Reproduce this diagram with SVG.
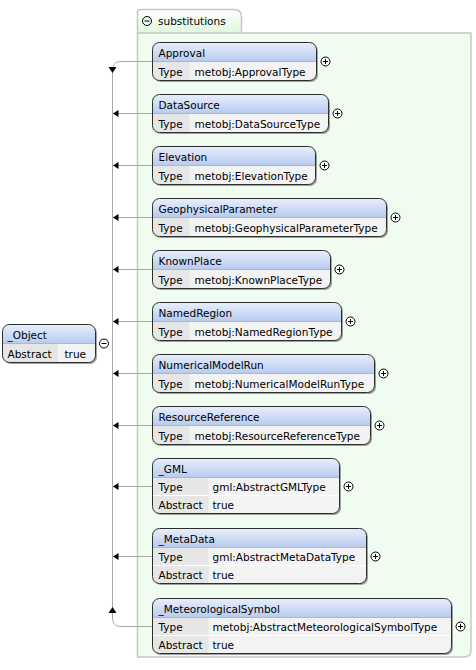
<svg xmlns="http://www.w3.org/2000/svg" width="476" height="670" viewBox="0 0 476 670">
<defs>
<linearGradient id="hdr" x1="0" y1="0" x2="0" y2="1">
<stop offset="0" stop-color="#e8effb"/>
<stop offset="1" stop-color="#b7cbef"/>
</linearGradient>
<linearGradient id="tabg" x1="0" y1="0" x2="0" y2="1">
<stop offset="0" stop-color="#ffffff"/>
<stop offset="1" stop-color="#dff7df"/>
</linearGradient>
</defs>
<style>
text{font-family:"DejaVu Sans","Liberation Sans",sans-serif;font-size:10.5px;fill:#000}
.sh{fill:#666;opacity:.6}
.bg{fill:#f3f3f3}
.hd{fill:url(#hdr)}
.lc{fill:#e6e6e6}
.ol{fill:none;stroke:#2e2e2e;stroke-width:1}
.sep{stroke:#a9b8d0;stroke-width:1}
.rs{stroke:#ffffff;stroke-width:1}
.cd{stroke:#ffffff;stroke-width:1}
.pc{fill:#fff;stroke:#000;stroke-width:1}
.pl{stroke:#000;stroke-width:1}
.cn{fill:none;stroke:#a8a8a8;stroke-width:1}
.ah{fill:#000}
</style>

<g id="substitutions">
<path d="M137.5,33 V12 Q137.5,9.5 140.5,9.5 H234 Q241.5,9.5 241.5,17 V33" fill="url(#tabg)" stroke="#c6c6c6" stroke-width="1.5"/>
<path d="M137.5,33 H471 V650 Q471,657 464,657 H137.5 Z" fill="#f0fcf0" stroke="#c6c6c6" stroke-width="1.5"/>
<circle cx="147" cy="21" r="4.5" fill="none" stroke="#000"/>
<line x1="144.5" y1="21" x2="149.5" y2="21" class="pl"/>
<text x="158" y="25">substitutions</text>
</g>

<g id="connectors">
<path class="cn" d="M152,61.5 H121 Q112.5,61.5 112.5,70 V618 Q112.5,626.5 121,626.5 H152"/>
<line class="cn" x1="113" y1="113.5" x2="152" y2="113.5"/>
<line class="cn" x1="113" y1="165.5" x2="152" y2="165.5"/>
<line class="cn" x1="113" y1="217.5" x2="152" y2="217.5"/>
<line class="cn" x1="113" y1="269.5" x2="152" y2="269.5"/>
<line class="cn" x1="113" y1="321.5" x2="152" y2="321.5"/>
<line class="cn" x1="113" y1="373.5" x2="152" y2="373.5"/>
<line class="cn" x1="113" y1="425.5" x2="152" y2="425.5"/>
<line class="cn" x1="113" y1="486.5" x2="152" y2="486.5"/>
<line class="cn" x1="113" y1="556.5" x2="152" y2="556.5"/>
<polygon class="ah" points="108.5,67 116.5,67 112.5,73"/>
<polygon class="ah" points="108.5,613 116.5,613 112.5,607"/>
<polygon class="ah" points="113,113.5 118.5,110 118.5,117"/>
<polygon class="ah" points="113,165.5 118.5,162 118.5,169"/>
<polygon class="ah" points="113,217.5 118.5,214 118.5,221"/>
<polygon class="ah" points="113,269.5 118.5,266 118.5,273"/>
<polygon class="ah" points="113,321.5 118.5,318 118.5,325"/>
<polygon class="ah" points="113,373.5 118.5,370 118.5,377"/>
<polygon class="ah" points="113,425.5 118.5,422 118.5,429"/>
<polygon class="ah" points="113,486.5 118.5,483 118.5,490"/>
<polygon class="ah" points="113,556.5 118.5,553 118.5,560"/>
</g>

<g id="Object" transform="translate(2.5,324.5)">
<rect class="sh" x="1.5" y="1.5" width="93" height="38" rx="7"/>
<rect class="bg" x="0" y="0" width="93" height="38" rx="7"/>
<path class="hd" d="M0,19 V7 Q0,0 7,0 H86 Q93,0 93,7 V19 Z"/>
<path class="lc" d="M0,19 H56 V38 H7 Q0,38 0,31 Z"/>
<line class="sep" x1="0" y1="19" x2="93" y2="19"/>
<line class="cd" x1="56.5" y1="19" x2="56.5" y2="38"/>
<rect class="ol" x="0" y="0" width="93" height="38" rx="7"/>
<text x="5" y="14">_Object</text>
<text x="5" y="33">Abstract</text>
<text x="62" y="33">true</text>
<circle cx="101.5" cy="19" r="4.5" class="pc"/>
<line class="pl" x1="99" y1="19" x2="104" y2="19"/>
</g>

<g id="Approval" transform="translate(152.5,42.5)">
<rect class="sh" x="1.5" y="1.5" width="164" height="38" rx="7"/>
<rect class="bg" width="164" height="38" rx="7"/>
<path class="hd" d="M0,19 V7 Q0,0 7,0 H157 Q164,0 164,7 V19 Z"/>
<path class="lc" d="M0,19 H37 V38 H7 Q0,38 0,31 Z"/>
<line class="sep" x1="0" y1="19" x2="164" y2="19"/>
<rect class="ol" width="164" height="38" rx="7"/>
<text x="6" y="14">Approval</text>
<text x="6" y="33">Type</text>
<text x="42" y="33">metobj:ApprovalType</text>
<circle cx="173" cy="19" r="4.5" class="pc"/>
<line class="pl" x1="170.5" y1="19" x2="175.5" y2="19"/><line class="pl" x1="173" y1="16.5" x2="173" y2="21.5"/>
</g>

<g id="DataSource" transform="translate(152.5,94.5)">
<rect class="sh" x="1.5" y="1.5" width="176" height="38" rx="7"/>
<rect class="bg" width="176" height="38" rx="7"/>
<path class="hd" d="M0,19 V7 Q0,0 7,0 H169 Q176,0 176,7 V19 Z"/>
<path class="lc" d="M0,19 H37 V38 H7 Q0,38 0,31 Z"/>
<line class="sep" x1="0" y1="19" x2="176" y2="19"/>
<rect class="ol" width="176" height="38" rx="7"/>
<text x="6" y="14">DataSource</text>
<text x="6" y="33">Type</text>
<text x="42" y="33">metobj:DataSourceType</text>
<circle cx="185" cy="19" r="4.5" class="pc"/>
<line class="pl" x1="182.5" y1="19" x2="187.5" y2="19"/><line class="pl" x1="185" y1="16.5" x2="185" y2="21.5"/>
</g>

<g id="Elevation" transform="translate(152.5,146.5)">
<rect class="sh" x="1.5" y="1.5" width="163" height="38" rx="7"/>
<rect class="bg" width="163" height="38" rx="7"/>
<path class="hd" d="M0,19 V7 Q0,0 7,0 H156 Q163,0 163,7 V19 Z"/>
<path class="lc" d="M0,19 H37 V38 H7 Q0,38 0,31 Z"/>
<line class="sep" x1="0" y1="19" x2="163" y2="19"/>
<rect class="ol" width="163" height="38" rx="7"/>
<text x="6" y="14">Elevation</text>
<text x="6" y="33">Type</text>
<text x="42" y="33">metobj:ElevationType</text>
<circle cx="172" cy="19" r="4.5" class="pc"/>
<line class="pl" x1="169.5" y1="19" x2="174.5" y2="19"/><line class="pl" x1="172" y1="16.5" x2="172" y2="21.5"/>
</g>

<g id="GeophysicalParameter" transform="translate(152.5,198.5)">
<rect class="sh" x="1.5" y="1.5" width="234" height="38" rx="7"/>
<rect class="bg" width="234" height="38" rx="7"/>
<path class="hd" d="M0,19 V7 Q0,0 7,0 H227 Q234,0 234,7 V19 Z"/>
<path class="lc" d="M0,19 H37 V38 H7 Q0,38 0,31 Z"/>
<line class="sep" x1="0" y1="19" x2="234" y2="19"/>
<rect class="ol" width="234" height="38" rx="7"/>
<text x="6" y="14">GeophysicalParameter</text>
<text x="6" y="33">Type</text>
<text x="42" y="33">metobj:GeophysicalParameterType</text>
<circle cx="243" cy="19" r="4.5" class="pc"/>
<line class="pl" x1="240.5" y1="19" x2="245.5" y2="19"/><line class="pl" x1="243" y1="16.5" x2="243" y2="21.5"/>
</g>

<g id="KnownPlace" transform="translate(152.5,250.5)">
<rect class="sh" x="1.5" y="1.5" width="178" height="38" rx="7"/>
<rect class="bg" width="178" height="38" rx="7"/>
<path class="hd" d="M0,19 V7 Q0,0 7,0 H171 Q178,0 178,7 V19 Z"/>
<path class="lc" d="M0,19 H37 V38 H7 Q0,38 0,31 Z"/>
<line class="sep" x1="0" y1="19" x2="178" y2="19"/>
<rect class="ol" width="178" height="38" rx="7"/>
<text x="6" y="14">KnownPlace</text>
<text x="6" y="33">Type</text>
<text x="42" y="33">metobj:KnownPlaceType</text>
<circle cx="187" cy="19" r="4.5" class="pc"/>
<line class="pl" x1="184.5" y1="19" x2="189.5" y2="19"/><line class="pl" x1="187" y1="16.5" x2="187" y2="21.5"/>
</g>

<g id="NamedRegion" transform="translate(152.5,302.5)">
<rect class="sh" x="1.5" y="1.5" width="189" height="38" rx="7"/>
<rect class="bg" width="189" height="38" rx="7"/>
<path class="hd" d="M0,19 V7 Q0,0 7,0 H182 Q189,0 189,7 V19 Z"/>
<path class="lc" d="M0,19 H37 V38 H7 Q0,38 0,31 Z"/>
<line class="sep" x1="0" y1="19" x2="189" y2="19"/>
<rect class="ol" width="189" height="38" rx="7"/>
<text x="6" y="14">NamedRegion</text>
<text x="6" y="33">Type</text>
<text x="42" y="33">metobj:NamedRegionType</text>
<circle cx="198" cy="19" r="4.5" class="pc"/>
<line class="pl" x1="195.5" y1="19" x2="200.5" y2="19"/><line class="pl" x1="198" y1="16.5" x2="198" y2="21.5"/>
</g>

<g id="NumericalModelRun" transform="translate(152.5,354.5)">
<rect class="sh" x="1.5" y="1.5" width="222" height="38" rx="7"/>
<rect class="bg" width="222" height="38" rx="7"/>
<path class="hd" d="M0,19 V7 Q0,0 7,0 H215 Q222,0 222,7 V19 Z"/>
<path class="lc" d="M0,19 H37 V38 H7 Q0,38 0,31 Z"/>
<line class="sep" x1="0" y1="19" x2="222" y2="19"/>
<rect class="ol" width="222" height="38" rx="7"/>
<text x="6" y="14">NumericalModelRun</text>
<text x="6" y="33">Type</text>
<text x="42" y="33">metobj:NumericalModelRunType</text>
<circle cx="231" cy="19" r="4.5" class="pc"/>
<line class="pl" x1="228.5" y1="19" x2="233.5" y2="19"/><line class="pl" x1="231" y1="16.5" x2="231" y2="21.5"/>
</g>

<g id="ResourceReference" transform="translate(152.5,406.5)">
<rect class="sh" x="1.5" y="1.5" width="218" height="38" rx="7"/>
<rect class="bg" width="218" height="38" rx="7"/>
<path class="hd" d="M0,19 V7 Q0,0 7,0 H211 Q218,0 218,7 V19 Z"/>
<path class="lc" d="M0,19 H37 V38 H7 Q0,38 0,31 Z"/>
<line class="sep" x1="0" y1="19" x2="218" y2="19"/>
<rect class="ol" width="218" height="38" rx="7"/>
<text x="6" y="14">ResourceReference</text>
<text x="6" y="33">Type</text>
<text x="42" y="33">metobj:ResourceReferenceType</text>
<circle cx="227" cy="19" r="4.5" class="pc"/>
<line class="pl" x1="224.5" y1="19" x2="229.5" y2="19"/><line class="pl" x1="227" y1="16.5" x2="227" y2="21.5"/>
</g>

<g id="GML" transform="translate(152.5,458.5)">
<rect class="sh" x="1.5" y="1.5" width="187" height="55" rx="7"/>
<rect class="bg" width="187" height="55" rx="7"/>
<path class="hd" d="M0,19 V7 Q0,0 7,0 H180 Q187,0 187,7 V19 Z"/>
<path class="lc" d="M0,19 H56 V55 H7 Q0,55 0,48 Z"/>
<line class="sep" x1="0" y1="19" x2="187" y2="19"/>
<line class="rs" x1="0" y1="37" x2="187" y2="37"/>
<rect class="ol" width="187" height="55" rx="7"/>
<text x="6" y="14">_GML</text>
<text x="6" y="32">Type</text>
<text x="60" y="32">gml:AbstractGMLType</text>
<text x="6" y="50">Abstract</text>
<text x="60" y="50">true</text>
<circle cx="196" cy="28" r="4.5" class="pc"/>
<line class="pl" x1="193.5" y1="28" x2="198.5" y2="28"/><line class="pl" x1="196" y1="25.5" x2="196" y2="30.5"/>
</g>

<g id="MetaData" transform="translate(152.5,528.5)">
<rect class="sh" x="1.5" y="1.5" width="214" height="55" rx="7"/>
<rect class="bg" width="214" height="55" rx="7"/>
<path class="hd" d="M0,19 V7 Q0,0 7,0 H207 Q214,0 214,7 V19 Z"/>
<path class="lc" d="M0,19 H56 V55 H7 Q0,55 0,48 Z"/>
<line class="sep" x1="0" y1="19" x2="214" y2="19"/>
<line class="rs" x1="0" y1="37" x2="214" y2="37"/>
<rect class="ol" width="214" height="55" rx="7"/>
<text x="6" y="14">_MetaData</text>
<text x="6" y="32">Type</text>
<text x="60" y="32">gml:AbstractMetaDataType</text>
<text x="6" y="50">Abstract</text>
<text x="60" y="50">true</text>
<circle cx="223" cy="28" r="4.5" class="pc"/>
<line class="pl" x1="220.5" y1="28" x2="225.5" y2="28"/><line class="pl" x1="223" y1="25.5" x2="223" y2="30.5"/>
</g>

<g id="MeteorologicalSymbol" transform="translate(152.5,598.5)">
<rect class="sh" x="1.5" y="1.5" width="299" height="55" rx="7"/>
<rect class="bg" width="299" height="55" rx="7"/>
<path class="hd" d="M0,19 V7 Q0,0 7,0 H292 Q299,0 299,7 V19 Z"/>
<path class="lc" d="M0,19 H56 V55 H7 Q0,55 0,48 Z"/>
<line class="sep" x1="0" y1="19" x2="299" y2="19"/>
<line class="rs" x1="0" y1="37" x2="299" y2="37"/>
<rect class="ol" width="299" height="55" rx="7"/>
<text x="6" y="14">_MeteorologicalSymbol</text>
<text x="6" y="32">Type</text>
<text x="60" y="32">metobj:AbstractMeteorologicalSymbolType</text>
<text x="6" y="50">Abstract</text>
<text x="60" y="50">true</text>
<circle cx="308" cy="28" r="4.5" class="pc"/>
<line class="pl" x1="305.5" y1="28" x2="310.5" y2="28"/><line class="pl" x1="308" y1="25.5" x2="308" y2="30.5"/>
</g>
</svg>
